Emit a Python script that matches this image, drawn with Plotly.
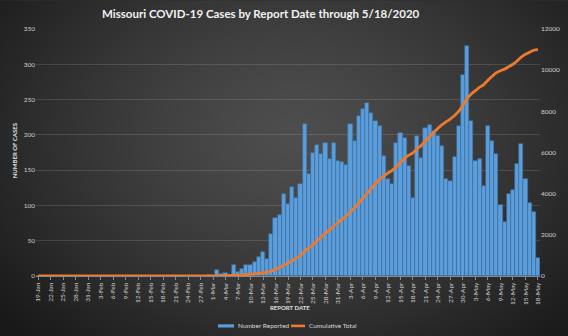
import base64, zlib, struct, datetime
import numpy as np
import plotly.graph_objects as go

# ---------------- data ----------------
start = datetime.date(2020, 1, 19)
dates = [start + datetime.timedelta(days=i) for i in range(121)]
categories = [f"{d.day}-{d.strftime('%b')}" for d in dates]

# daily number reported (19-Jan .. 18-May)
number_reported = [0] * 41 + [
    1, 0, 8, 3, 4, 1, 15, 5, 10, 16,          # 29-Feb .. 9-Mar
    16, 20, 27, 34, 24, 60, 82, 87, 116, 102,  # 10-Mar .. 19-Mar
    126, 110, 130, 215, 144, 174, 185, 173, 188, 166,  # 20-Mar .. 29-Mar
    188, 163, 162, 158, 215, 191, 227, 236, 245, 231,  # 30-Mar .. 8-Apr
    220, 213, 170, 138, 130, 188, 202, 196, 156, 111,  # 9-Apr .. 18-Apr
    198, 167, 210, 214, 206, 198, 184, 137, 134, 168,  # 19-Apr .. 28-Apr
    213, 285, 326, 220, 163, 166, 128, 212, 191, 173,  # 29-Apr .. 8-May
    100, 76, 116, 122, 159, 187, 137, 104, 91, 26,     # 9-May .. 18-May
]
cumulative_total = list(np.cumsum(number_reported))

tick_vals = categories[::3]
left_ticks = [0, 50, 100, 150, 200, 250, 300, 350]
right_ticks = [0, 2000, 4000, 6000, 8000, 10000, 12000]
series_names = ["Number Reported", "Cumulative Total"]
series_colors = ["#5C9DDB", "#EE7A2E"]

# ---------------- background gradient image ----------------
W, H = 568, 336
yy, xx = np.mgrid[0:H, 0:W].astype(float)
d = np.sqrt(((xx - 295) / (0.62 * W)) ** 2 + ((yy - 135) / (0.78 * H)) ** 2)
v = 78 - 48 * np.clip(d, 0, 1.15) ** 1.3
v = np.clip(v, 24, 90).astype(np.uint8)
rgb = np.stack([v, v, v], axis=-1)
raw = b"".join(b"\x00" + rgb[r].tobytes() for r in range(H))

def chunk(tag, data):
    c = struct.pack(">I", len(data)) + tag + data
    return c + struct.pack(">I", zlib.crc32(tag + data) & 0xFFFFFFFF)

png = (b"\x89PNG\r\n\x1a\n" + chunk(b"IHDR", struct.pack(">IIBBBBB", W, H, 8, 2, 0, 0, 0))
       + chunk(b"IDAT", zlib.compress(raw, 9)) + chunk(b"IEND", b""))
bg_uri = "data:image/png;base64," + base64.b64encode(png).decode()

# ---------------- figure ----------------
L, R, T, B = 36, 28, 28.5, 60
PW, PH = W - L - R, H - T - B
FONT = "Lato, Open Sans, sans-serif"

def px(xp):  # figure pixel -> paper x
    return (xp - L) / PW

def py(yp):  # figure pixel -> paper y
    return (T + PH - yp) / PH

fig = go.Figure()
fig.add_trace(go.Bar(
    x=categories, y=number_reported, name=series_names[0],
    marker=dict(color=series_colors[0], line=dict(color="#3B6E9E", width=0.6)),
))
fig.add_trace(go.Scatter(
    x=categories, y=cumulative_total, name=series_names[1], yaxis="y2",
    mode="lines", line=dict(color=series_colors[1], width=2.8, shape="spline", smoothing=0.6),
))

legend_y = 326
fig.update_layout(
    width=W, height=H,
    margin=dict(l=L, r=R, t=T, b=B, autoexpand=False),
    paper_bgcolor="#2e2e2e", plot_bgcolor="rgba(0,0,0,0)",
    font=dict(family=FONT, color="#d9d9d9", size=7),
    bargap=0,
    showlegend=False,
    xaxis=dict(
        type="category", range=[-0.5, 120.5], automargin=False,
        tickmode="array", tickvals=tick_vals, ticktext=tick_vals,
        tickangle=-90, tickfont=dict(size=6.5, color="#d0d0d0"),
        ticks="outside", ticklen=3, tickcolor="#8a8a8a",
        showline=True, linecolor="#8a8a8a", linewidth=1,
        showgrid=False, zeroline=False,
    ),
    yaxis=dict(
        range=[0, 350], tickvals=left_ticks, automargin=False,
        tickfont=dict(size=6.5, color="#d0d0d0"),
        showgrid=True, gridcolor="rgba(255,255,255,0.13)", gridwidth=1,
        zeroline=False, showline=False, ticks="", ticklen=0,
    ),
    yaxis2=dict(
        range=[0, 12000], tickvals=right_ticks, ticktext=[str(t) for t in right_ticks],
        overlaying="y", side="right", automargin=False,
        tickfont=dict(size=6.5, color="#d0d0d0"),
        showgrid=False, zeroline=False, showline=False,
    ),
    images=[dict(
        source=bg_uri, xref="paper", yref="paper",
        x=-L / PW, y=1 + T / PH, sizex=W / PW, sizey=H / PH,
        xanchor="left", yanchor="top", sizing="stretch", layer="below",
    )],
    shapes=[
        dict(type="rect", xref="paper", yref="paper",
             x0=px(218), x1=px(234), y0=py(legend_y + 1.6), y1=py(legend_y - 1.6),
             fillcolor=series_colors[0], line=dict(width=0)),
        dict(type="line", xref="paper", yref="paper",
             x0=px(291), x1=px(305), y0=py(legend_y), y1=py(legend_y),
             line=dict(color=series_colors[1], width=2.6)),
    ],
    annotations=[
        dict(text="<b>Missouri COVID-19 Cases by Report Date through 5/18/2020</b>",
             xref="paper", yref="paper", x=px(261), y=py(13),
             xanchor="center", yanchor="middle", showarrow=False,
             font=dict(size=11.5, color="#f2f2f2", family=FONT)),
        dict(text="<b>REPORT DATE</b>", xref="paper", yref="paper",
             x=px(290), y=py(307.5), xanchor="center", yanchor="middle",
             showarrow=False, font=dict(size=6, color="#e0e0e0", family=FONT)),
        dict(text="<b>NUMBER OF CASES</b>", xref="paper", yref="paper",
             x=px(14), y=py(150), xanchor="center", yanchor="middle",
             textangle=-90, showarrow=False, font=dict(size=6, color="#e0e0e0", family=FONT)),
        dict(text=series_names[0], xref="paper", yref="paper",
             x=px(235.5), y=py(legend_y), xanchor="left", yanchor="middle",
             showarrow=False, font=dict(size=6.5, color="#d9d9d9", family=FONT)),
        dict(text=series_names[1], xref="paper", yref="paper",
             x=px(306.5), y=py(legend_y), xanchor="left", yanchor="middle",
             showarrow=False, font=dict(size=6.5, color="#d9d9d9", family=FONT)),
    ],
)

fig.write_html("out.html")
